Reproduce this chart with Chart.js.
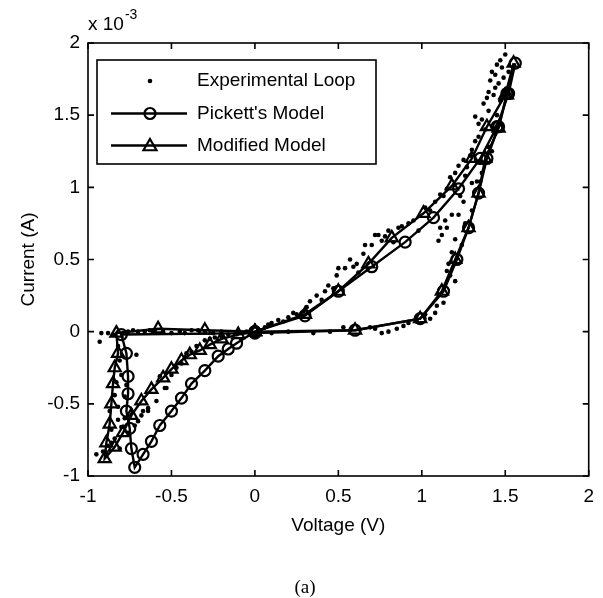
<!DOCTYPE html>
<html>
<head>
<meta charset="utf-8">
<title>Memristor I-V loop</title>
<script src="https://cdn.jsdelivr.net/npm/chart.js@4.4.1/dist/chart.umd.min.js"></script>
<style>
  html, body { margin: 0; padding: 0; background: #fff; }
  #chart { display: block; }
</style>
</head>
<body>
<canvas id="chart" width="603" height="598"></canvas>
<script>
// Axis ticks (current is in units of 10^-3 A)
const voltageTicks = [-1, -0.5, 0, 0.5, 1, 1.5, 2];
const currentTicks = [-1, -0.5, 0, 0.5, 1, 1.5, 2];

// Experimental loop (dots)
const expVoltage = [
    0.02, 0.06, 0.10, 0.14, 0.17, 0.20, 0.25, 0.29, 0.33, 0.37, 0.40, 0.44, 0.47, 0.49, 0.50, 0.54,
    0.59, 0.62, 0.65, 0.66, 0.70, 0.72, 0.74, 0.78, 0.80, 0.83, 0.86, 0.92, 0.95, 0.98, 1.02, 1.08,
    1.13, 1.15, 1.17, 1.20, 1.22, 1.27, 1.29, 1.30, 1.32, 1.32, 1.34, 1.36, 1.37, 1.38, 1.40, 1.40,
    1.41, 1.42, 1.44, 1.45, 1.47, 1.50, 1.48, 1.49, 1.46, 1.43, 1.40, 1.36, 1.37,
    0.08, 0.23, 0.31, 0.42, 0.57, 0.61, 0.76, 0.88, 1.05, 1.11, 1.25, 1.34, 1.39, 1.44, 1.52,
    1.47, 1.45, 1.44, 1.42, 1.35, 1.33, 1.30, 1.26, 1.30, 1.26, 1.25, 1.23, 1.22, 1.20, 1.18, 1.14,
    1.15, 1.11, 1.12, 1.10, 1.16, 1.15, 1.17, 1.20, 1.13, 1.09, 1.08, 1.05, 0.92, 0.89, 0.85, 0.80,
    0.76, 0.69, 0.53, 0.45, 0.35, 0.20, 0.10, 1.24, 1.18, 1.02, 0.97, 0.72,
    -0.20, -0.30, -0.38, -0.45, -0.50, -0.55, -0.60, -0.66, -0.70, -0.73, -0.76, -0.88, -0.92, -0.93,
    -0.25, -0.34, -0.42, -0.63, -0.79, -0.85,
    -0.82, -0.81, -0.80, -0.83, -0.78, -0.82, -0.82, -0.78, -0.86, -0.86, -0.89, -0.91, -0.95, -0.81, -0.84,
    -0.87, -0.84, -0.80, -0.77, -0.88,
    -0.76, -0.72, -0.70, -0.68, -0.67, -0.64, -0.64, -0.59, -0.57, -0.54, -0.53, -0.50, -0.47, -0.44,
    -0.41, -0.38, -0.35, -0.30, -0.27, -0.24, -0.20, -0.16, -0.10, -0.71, -0.05
];
const expCurrent = [
    0.01, 0.03, 0.06, 0.08, 0.07, 0.10, 0.12, 0.14, 0.21, 0.25, 0.22, 0.32, 0.30, 0.39, 0.44, 0.44,
    0.45, 0.41, 0.54, 0.60, 0.60, 0.67, 0.67, 0.66, 0.70, 0.62, 0.72, 0.75, 0.77, 0.70, 0.86, 0.90,
    0.94, 0.99, 1.07, 1.10, 1.15, 1.14, 1.22, 1.26, 1.32, 1.49, 1.35, 1.47, 1.58, 1.40, 1.53, 1.66,
    1.74, 1.80, 1.78, 1.85, 1.88, 1.92, 1.83, 1.76, 1.72, 1.64, 1.28, 1.10, 1.17,
    0.05, 0.13, 0.17, 0.28, 0.50, 0.47, 0.63, 0.73, 0.84, 0.95, 1.19, 1.44, 1.62, 1.69, 1.80,
    1.60, 1.50, 1.37, 1.25, 1.04, 1.04, 1.03, 1.08, 0.84, 0.75, 0.90, 0.94, 0.81, 0.64, 0.81, 0.77,
    0.72, 0.72, 0.67, 0.63, 0.47, 0.42, 0.39, 0.35, 0.20, 0.18, 0.13, 0.09, 0.06, 0.04, 0.02, 0.00,
    -0.01, 0.03, 0.03, 0.00, -0.01, 0.00, -0.01, 0.60, 0.55, 0.12, 0.07, 0.02,
    0.00, 0.00, 0.01, 0.00, -0.01, 0.00, 0.01, 0.00, 0.00, 0.01, 0.00, -0.01, -0.01, -0.07,
    -0.01, 0.01, -0.01, 0.01, -0.01, -0.02,
    -0.10, -0.20, -0.30, -0.35, -0.45, -0.52, -0.61, -0.60, -0.68, -0.77, -0.84, -0.83, -0.85, -0.81, -0.74,
    -0.55, -0.44, -0.66, -0.37, -0.79,
    -0.70, -0.65, -0.62, -0.58, -0.55, -0.55, -0.53, -0.48, -0.31, -0.39, -0.39, -0.30, -0.25, -0.22,
    -0.15, -0.14, -0.10, -0.06, -0.05, -0.04, -0.03, -0.02, -0.01, -0.16, 0.00
];

// Pickett's model (circles), in sweep order
const pickettVoltage = [
    0.00, 0.30, 0.50, 0.70, 0.90, 1.07, 1.22, 1.35, 1.45, 1.52, 1.56,
    1.51, 1.46, 1.39, 1.34, 1.28, 1.21, 1.13, 0.99, 0.60, 0.00,
    -0.80, -0.77, -0.76, -0.76, -0.77, -0.75, -0.74, -0.72,
    -0.67, -0.62, -0.57, -0.50, -0.44, -0.38, -0.30, -0.22, -0.16, -0.11, 0.00
];
const pickettCurrent = [
    0.00, 0.11, 0.28, 0.45, 0.62, 0.79, 0.99, 1.20, 1.42, 1.65, 1.86,
    1.65, 1.42, 1.20, 0.96, 0.72, 0.50, 0.28, 0.09, 0.01, -0.01,
    -0.02, -0.15, -0.31, -0.43, -0.55, -0.67, -0.81, -0.94,
    -0.85, -0.76, -0.65, -0.55, -0.46, -0.36, -0.27, -0.17, -0.12, -0.08, 0.00
];

// Modified model (triangles), in sweep order
const modifiedVoltage = [
    0.00, 0.30, 0.50, 0.68, 0.82, 1.01, 1.18, 1.30, 1.39, 1.50, 1.55,
    1.51, 1.46, 1.38, 1.34, 1.28, 1.20, 1.12, 0.99, 0.60, 0.00,
    -0.30, -0.58, -0.83,
    -0.82, -0.84, -0.85, -0.86, -0.87, -0.89, -0.90,
    -0.84, -0.79, -0.74, -0.68, -0.62, -0.55, -0.50, -0.44, -0.39, -0.33, -0.27, -0.20, -0.10, 0.00
];
const modifiedCurrent = [
    0.00, 0.12, 0.28, 0.47, 0.65, 0.82, 1.01, 1.20, 1.42, 1.64, 1.86,
    1.64, 1.41, 1.20, 0.96, 0.72, 0.50, 0.28, 0.09, 0.01, 0.00,
    0.01, 0.02, -0.01,
    -0.15, -0.25, -0.36, -0.50, -0.64, -0.77, -0.88,
    -0.80, -0.70, -0.58, -0.48, -0.40, -0.32, -0.26, -0.20, -0.16, -0.13, -0.09, -0.05, -0.02, 0.00
];

const FONT = "'Liberation Sans', Arial, sans-serif";

function toPoints(xs, ys) {
    return xs.map((x, i) => ({ x: x, y: ys[i] }));
}

function drawTriangle(ctx, x, y, r) {
    ctx.beginPath();
    ctx.moveTo(x, y - r);
    ctx.lineTo(x + r * 0.866, y + r * 0.5);
    ctx.lineTo(x - r * 0.866, y + r * 0.5);
    ctx.closePath();
    ctx.stroke();
}

// Frame, inward ticks, exponent label, caption and legend box
const decorations = {
    id: 'decorations',
    afterDatasetsDraw(chart) {
        const ctx = chart.ctx;
        const a = chart.chartArea;
        const xs = chart.scales.x;
        const ys = chart.scales.y;
        const tick = 6;
        ctx.save();
        ctx.strokeStyle = '#000';
        ctx.lineWidth = 1.6;
        ctx.strokeRect(a.left, a.top, a.right - a.left, a.bottom - a.top);

        ctx.beginPath();
        voltageTicks.forEach(v => {
            const px = xs.getPixelForValue(v);
            ctx.moveTo(px, a.bottom); ctx.lineTo(px, a.bottom - tick);
            ctx.moveTo(px, a.top); ctx.lineTo(px, a.top + tick);
        });
        currentTicks.forEach(v => {
            const py = ys.getPixelForValue(v);
            ctx.moveTo(a.left, py); ctx.lineTo(a.left + tick, py);
            ctx.moveTo(a.right, py); ctx.lineTo(a.right - tick, py);
        });
        ctx.stroke();

        // x 10^-3 multiplier
        ctx.fillStyle = '#000';
        ctx.textBaseline = 'middle';
        ctx.textAlign = 'left';
        ctx.font = '19px ' + FONT;
        ctx.fillText('x 10', a.left, 25);
        const w = ctx.measureText('x 10').width;
        ctx.font = '14px ' + FONT;
        ctx.fillText('-3', a.left + w + 1, 15);

        // caption
        ctx.font = "19px 'Liberation Serif', 'Times New Roman', serif";
        ctx.textAlign = 'center';
        ctx.fillText('(a)', 305, 588);

        // legend
        const box = { left: 97, top: 60, right: 376, bottom: 164 };
        ctx.fillStyle = '#fff';
        ctx.fillRect(box.left, box.top, box.right - box.left, box.bottom - box.top);
        ctx.lineWidth = 1.6;
        ctx.strokeRect(box.left, box.top, box.right - box.left, box.bottom - box.top);
        const rows = [81, 113.5, 145.5];
        const labels = chart.data.datasets.map(d => d.label);
        const mx = 150;
        ctx.fillStyle = '#000';
        // experimental dot
        ctx.beginPath();
        ctx.arc(mx, rows[0], 2.3, 0, Math.PI * 2);
        ctx.fill();
        // model lines
        ctx.lineWidth = 2.4;
        [1, 2].forEach(i => {
            ctx.beginPath();
            ctx.moveTo(111, rows[i]);
            ctx.lineTo(187, rows[i]);
            ctx.stroke();
        });
        ctx.lineWidth = 2.2;
        ctx.beginPath();
        ctx.arc(mx, rows[1], 5.5, 0, Math.PI * 2);
        ctx.stroke();
        drawTriangle(ctx, mx, rows[2] + 1, 7.5);
        ctx.font = '19px ' + FONT;
        ctx.textAlign = 'left';
        labels.forEach((t, i) => ctx.fillText(t, 197, rows[i]));
        ctx.restore();
    }
};

new Chart(document.getElementById('chart'), {
    type: 'scatter',
    data: {
        datasets: [{
            label: 'Experimental Loop',
            data: toPoints(expVoltage, expCurrent),
            showLine: false,
            pointStyle: 'circle',
            pointRadius: 2.3,
            backgroundColor: '#000',
            borderColor: '#000',
            borderWidth: 0,
            order: 3
        }, {
            label: "Pickett's Model",
            data: toPoints(pickettVoltage, pickettCurrent),
            showLine: true,
            borderColor: '#000',
            borderWidth: 2.4,
            pointStyle: 'circle',
            pointRadius: 5.5,
            pointBorderWidth: 2.2,
            pointBorderColor: '#000',
            pointBackgroundColor: 'rgba(0,0,0,0)',
            order: 2
        }, {
            label: 'Modified Model',
            data: toPoints(modifiedVoltage, modifiedCurrent),
            showLine: true,
            borderColor: '#000',
            borderWidth: 2.4,
            pointStyle: 'triangle',
            pointRadius: 7,
            pointBorderWidth: 2.2,
            pointBorderColor: '#000',
            pointBackgroundColor: 'rgba(0,0,0,0)',
            order: 1
        }]
    },
    options: {
        responsive: false,
        animation: false,
        events: [],
        layout: { padding: { left: 0, top: 43, right: 8, bottom: 61 } },
        plugins: { legend: { display: false }, tooltip: { enabled: false } },
        scales: {
            x: {
                type: 'linear',
                min: -1,
                max: 2,
                grid: { display: false, drawTicks: false },
                border: { display: false },
                afterBuildTicks: s => { s.ticks = voltageTicks.map(v => ({ value: v })); },
                afterFit: s => { s.height = 61; },
                ticks: {
                    color: '#000',
                    padding: 9,
                    maxRotation: 0,
                    autoSkip: false,
                    font: { family: FONT, size: 19 },
                    callback: v => String(v)
                },
                title: {
                    display: true,
                    text: 'Voltage (V)',
                    color: '#000',
                    font: { family: FONT, size: 19 },
                    padding: { top: 0, bottom: 0 }
                }
            },
            y: {
                type: 'linear',
                min: -1,
                max: 2,
                grid: { display: false, drawTicks: false },
                border: { display: false },
                afterBuildTicks: s => { s.ticks = currentTicks.map(v => ({ value: v })); },
                afterFit: s => { s.width = 88; },
                ticks: {
                    color: '#000',
                    padding: 8,
                    autoSkip: false,
                    font: { family: FONT, size: 19 },
                    callback: v => String(v)
                },
                title: {
                    display: true,
                    text: 'Current (A)',
                    color: '#000',
                    font: { family: FONT, size: 19 },
                    padding: { top: 17, bottom: 0 }
                }
            }
        }
    },
    plugins: [decorations]
});
</script>
</body>
</html>
